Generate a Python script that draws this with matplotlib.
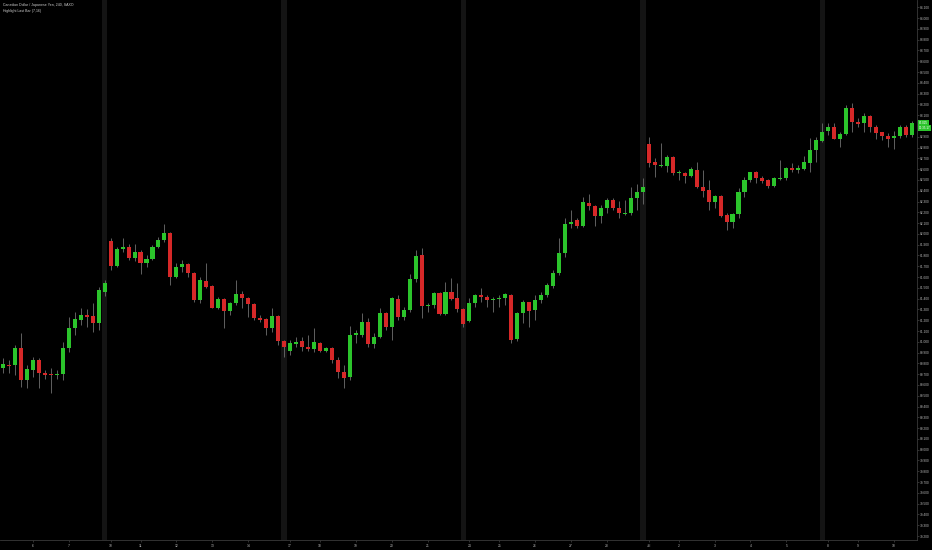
import matplotlib
matplotlib.use("Agg")
import matplotlib.pyplot as plt
import numpy as np

# ---------------- data (CAD/JPY, 4h bars) ----------------
opens = [80.755, 80.788, 80.786, 80.946, 80.646, 80.739, 80.832, 80.714, 80.702, 80.695,
         80.702, 80.946, 81.125, 81.202, 81.249, 81.239, 81.177, 81.464, 81.934, 81.706,
         81.861, 81.877, 81.774, 81.830, 81.734, 81.768, 81.882, 81.944, 82.011, 81.598,
         81.697, 81.722, 81.641, 81.388, 81.567, 81.517, 81.316, 81.394, 81.289, 81.363,
         81.444, 81.409, 81.350, 81.224, 81.209, 81.131, 81.242, 81.010, 80.918, 80.982,
         81.010, 80.955, 80.931, 80.992, 80.918, 80.946, 80.832, 80.721, 80.674, 81.063,
         81.063, 81.186, 80.980, 81.047, 81.264, 81.134, 81.397, 81.227, 81.295, 81.580,
         81.805, 81.332, 81.341, 81.449, 81.258, 81.464, 81.403, 81.302, 81.193, 81.357,
         81.437, 81.412, 81.390, 81.394, 81.403, 81.434, 81.023, 81.264, 81.366, 81.295,
         81.388, 81.434, 81.520, 81.635, 81.820, 82.089, 82.129, 82.074, 82.289, 82.262,
         82.166, 82.237, 82.314, 82.243, 82.185, 82.191, 82.330, 82.391, 82.832, 82.664,
         82.629, 82.632, 82.716, 82.562, 82.562, 82.537, 82.593, 82.432, 82.407, 82.298,
         82.352, 82.176, 82.114, 82.185, 82.391, 82.500, 82.571, 82.521, 82.500, 82.444,
         82.512, 82.515, 82.614, 82.593, 82.602, 82.660, 82.778, 82.864, 82.954, 82.989,
         82.880, 82.926, 83.164, 83.040, 83.031, 83.093, 82.994, 82.940, 82.911, 82.886,
         82.908, 82.989, 82.917]

highs = [80.847, 80.832, 80.971, 81.079, 80.786, 80.862, 80.847, 80.739, 80.755, 80.739,
         81.001, 81.233, 81.279, 81.311, 81.302, 81.363, 81.511, 81.573, 81.959, 81.882,
         81.959, 81.907, 81.907, 81.851, 81.805, 81.897, 81.975, 82.092, 82.021, 81.728,
         81.758, 81.734, 81.650, 81.604, 81.728, 81.527, 81.418, 81.403, 81.372, 81.573,
         81.475, 81.418, 81.357, 81.249, 81.218, 81.311, 81.249, 81.017, 81.017, 81.047,
         81.047, 81.063, 81.125, 81.001, 80.955, 80.955, 80.860, 80.786, 81.147, 81.110,
         81.264, 81.218, 81.079, 81.311, 81.279, 81.418, 81.434, 81.320, 81.625, 81.851,
         81.867, 81.357, 81.464, 81.464, 81.557, 81.589, 81.542, 81.311, 81.403, 81.444,
         81.496, 81.434, 81.418, 81.434, 81.455, 81.444, 81.279, 81.388, 81.372, 81.434,
         81.464, 81.542, 81.666, 81.959, 82.145, 82.222, 82.145, 82.345, 82.370, 82.268,
         82.268, 82.330, 82.330, 82.308, 82.314, 82.438, 82.463, 82.515, 82.896, 82.701,
         82.840, 82.731, 82.722, 82.593, 82.577, 82.623, 82.670, 82.593, 82.500, 82.361,
         82.361, 82.191, 82.197, 82.423, 82.530, 82.577, 82.583, 82.537, 82.506, 82.525,
         82.685, 82.623, 82.660, 82.639, 82.722, 82.887, 82.896, 83.025, 83.025, 83.031,
         82.947, 83.195, 83.210, 83.071, 83.118, 83.102, 83.010, 82.947, 82.933, 82.957,
         83.010, 83.010, 83.047]

lows = [80.708, 80.708, 80.693, 80.584, 80.569, 80.677, 80.569, 80.653, 80.524, 80.653,
        80.646, 80.908, 81.063, 81.156, 81.140, 81.094, 81.110, 81.425, 81.666, 81.697,
        81.835, 81.758, 81.752, 81.629, 81.691, 81.758, 81.867, 81.928, 81.527, 81.589,
        81.650, 81.604, 81.372, 81.357, 81.496, 81.311, 81.302, 81.131, 81.249, 81.341,
        81.311, 81.233, 81.202, 81.186, 81.063, 81.094, 80.971, 80.862, 80.877, 80.955,
        80.918, 80.918, 80.908, 80.908, 80.908, 80.801, 80.665, 80.572, 80.646, 80.986,
        81.047, 80.955, 80.940, 81.032, 81.110, 81.017, 81.202, 81.202, 81.279, 81.557,
        81.218, 81.279, 81.311, 81.249, 81.249, 81.388, 81.279, 81.140, 81.186, 81.320,
        81.372, 81.320, 81.279, 81.320, 81.341, 80.992, 81.010, 81.172, 81.140, 81.202,
        81.357, 81.418, 81.496, 81.620, 81.789, 82.053, 82.053, 82.067, 82.222, 82.074,
        82.098, 82.191, 82.222, 82.145, 82.176, 82.176, 82.222, 82.277, 82.623, 82.525,
        82.623, 82.577, 82.546, 82.500, 82.469, 82.525, 82.423, 82.345, 82.222, 82.237,
        82.160, 82.037, 82.053, 82.145, 82.345, 82.484, 82.469, 82.469, 82.423, 82.432,
        82.500, 82.500, 82.577, 82.567, 82.593, 82.577, 82.664, 82.855, 82.917, 82.877,
        82.803, 82.917, 82.947, 82.994, 82.947, 82.947, 82.877, 82.871, 82.809, 82.785,
        82.889, 82.898, 82.898]

closes = [80.794, 80.779, 80.946, 80.646, 80.745, 80.832, 80.708, 80.693, 80.693, 80.704,
          80.946, 81.125, 81.209, 81.249, 81.233, 81.177, 81.480, 81.542, 81.703, 81.861,
          81.877, 81.774, 81.830, 81.734, 81.768, 81.882, 81.944, 82.011, 81.598, 81.697,
          81.722, 81.641, 81.388, 81.573, 81.511, 81.316, 81.394, 81.289, 81.363, 81.444,
          81.403, 81.348, 81.218, 81.202, 81.131, 81.242, 81.008, 80.949, 80.986, 81.001,
          80.949, 80.931, 81.001, 80.918, 80.940, 80.832, 80.721, 80.665, 81.063, 81.079,
          81.186, 80.980, 81.047, 81.264, 81.134, 81.403, 81.227, 81.295, 81.580, 81.795,
          81.332, 81.344, 81.449, 81.255, 81.464, 81.397, 81.302, 81.165, 81.357, 81.434,
          81.412, 81.388, 81.400, 81.409, 81.441, 81.017, 81.264, 81.366, 81.289, 81.388,
          81.434, 81.527, 81.635, 81.820, 82.092, 82.108, 82.074, 82.293, 82.259, 82.166,
          82.237, 82.314, 82.243, 82.191, 82.197, 82.330, 82.391, 82.432, 82.660, 82.639,
          82.639, 82.716, 82.562, 82.571, 82.537, 82.599, 82.432, 82.401, 82.298, 82.352,
          82.166, 82.114, 82.185, 82.391, 82.500, 82.571, 82.515, 82.490, 82.444, 82.515,
          82.521, 82.614, 82.593, 82.608, 82.670, 82.778, 82.871, 82.947, 82.989, 82.880,
          82.926, 83.164, 83.040, 83.016, 83.093, 82.989, 82.936, 82.908, 82.880, 82.908,
          82.989, 82.917, 83.025]

day_labels = ["6", "7", "10", "11", "12", "13", "14", "17", "18", "19", "20", "21",
              "24", "25", "26", "27", "28", "Jul", "2", "3", "4", "5", "8", "9", "10"]
day_bars = [5, 11, 18, 23, 29, 35, 41, 48, 53, 59, 65, 71,
            78, 83, 89, 95, 101, 108, 113, 119, 125, 131, 138, 143, 149]

highlight_bars = [17, 47, 77, 107, 137]

price_ticks = [79.2, 79.3, 79.4, 79.5, 79.6, 79.7, 79.8, 79.9, 80.0, 80.1,
               80.2, 80.3, 80.4, 80.5, 80.6, 80.7, 80.8, 80.9, 81.0, 81.1,
               81.2, 81.3, 81.4, 81.5, 81.6, 81.7, 81.8, 81.9, 82.0, 82.1,
               82.2, 82.3, 82.4, 82.5, 82.6, 82.7, 82.8, 82.9, 83.0, 83.1,
               83.2, 83.3, 83.4, 83.5, 83.6, 83.7, 83.8, 83.9, 84.0, 84.1]

title_lines = ["Canadian Dollar / Japanese Yen, 240, SAXO", "Highlight Last Bar (7,16)"]
last_price_label = "83.025"
countdown_label = "01:35:17"

# ---------------- styling ----------------
UP = "#2bc42b"
DOWN = "#d62828"
WICK = "#676767"
TXT = "#b8b8b8"
FONT = "Liberation Sans"

plt.rcParams["font.family"] = [FONT, "DejaVu Sans"]

fig = plt.figure(figsize=(9.32, 5.5), dpi=100, facecolor="black")
ax = fig.add_axes([0, 10 / 550, 917 / 932, 540 / 550], facecolor="black")

o = np.array(opens)
h = np.array(highs)
l = np.array(lows)
c = np.array(closes)
x = np.arange(len(o))
up = c >= o
colors = np.where(up, UP, DOWN)

for b in highlight_bars:
    ax.axvspan(b - 0.45, b + 0.45, color="#141414", lw=0, zorder=0)

ax.vlines(x, l, h, color=WICK, lw=0.65, zorder=2)
bottoms = np.minimum(o, c)
heights = np.maximum(np.abs(c - o), 0.008)
ax.bar(x, heights, bottom=bottoms, width=0.68, color=colors, lw=0, zorder=3)

ax.set_xlim(-0.5, 152.85)
ax.set_ylim(79.163, 84.168)

# axes / ticks
for s in ["top", "left"]:
    ax.spines[s].set_visible(False)
for s in ["right", "bottom"]:
    ax.spines[s].set_color("#3a3a3a")
    ax.spines[s].set_linewidth(0.6)

ax.yaxis.tick_right()
ax.set_yticks(price_ticks)
ax.set_yticklabels([f"{v:.3f}" for v in price_ticks])
ax.tick_params(axis="y", length=1.2, width=0.4, color="#555555", pad=0.6,
               labelsize=2.3, labelcolor=TXT)
ax.set_xticks(day_bars)
ax.set_xticklabels(day_labels)
ax.tick_params(axis="x", length=1.2, width=0.4, color="#555555", pad=1.6,
               labelsize=2.4, labelcolor=TXT)

# title
ax.text(0.003, 0.990, title_lines[0], transform=ax.transAxes, ha="left", va="center",
        fontsize=2.5, color="#cfcfcf")
ax.text(0.003, 0.979, title_lines[1], transform=ax.transAxes, ha="left", va="center",
        fontsize=2.5, color="#cfcfcf")

# last price labels on price axis
ax.annotate(last_price_label, xy=(1.0, closes[-1]), xycoords=("axes fraction", "data"),
            xytext=(1.2, 0), textcoords="offset points", ha="left", va="center",
            fontsize=2.2, color="white", annotation_clip=False,
            bbox=dict(boxstyle="square,pad=0.35", fc=UP, ec="none"))
ax.annotate(countdown_label, xy=(1.0, closes[-1]), xycoords=("axes fraction", "data"),
            xytext=(1.2, -3.6), textcoords="offset points", ha="left", va="center",
            fontsize=2.2, color="white", annotation_clip=False,
            bbox=dict(boxstyle="square,pad=0.35", fc=UP, ec="none"))

fig.savefig("out.png", dpi=100, facecolor="black")
